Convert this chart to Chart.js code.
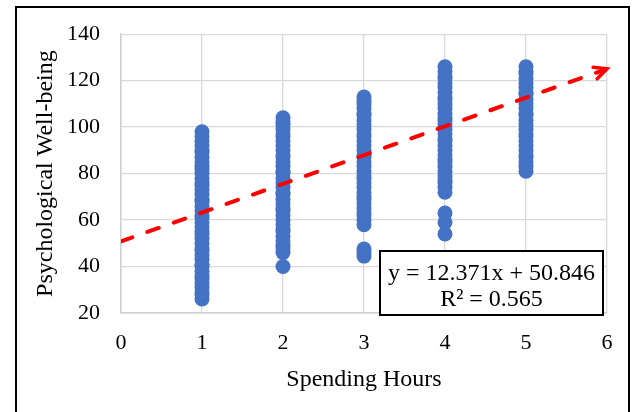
<!DOCTYPE html>
<html>
<head>
<meta charset="utf-8">
<script src="https://cdn.jsdelivr.net/npm/chart.js@4.4.1/dist/chart.umd.min.js"></script>
<style>
    body { margin: 0; background: #fff; }
    #frame { position: absolute; left: 15px; top: 6px; width: 615px; height: 420px; border: 2px solid #000; box-sizing: border-box; }
    #wrap { position: absolute; left: 0; top: 0; width: 633px; height: 412px; }
</style>
</head>
<body>
<div id="frame"></div>
<div id="wrap"><canvas id="scatterChart" width="633" height="412"></canvas></div>
<script>
// spending hours (x) and the well-being scores
const hours = [1, 2, 3, 4, 5];
const wellbeing1 = [26, 28, 29, 31, 33, 35, 36, 38, 40, 41, 43, 45, 47, 48, 50, 52, 54, 55, 57, 59, 61, 62, 64, 66, 68, 69, 71, 73, 75, 76, 78, 80, 82, 83, 85, 87, 89, 90, 92, 94, 96, 98];
const wellbeing2 = [40, 46, 48, 49, 51, 53, 55, 56, 58, 60, 62, 64, 65, 67, 69, 71, 72, 74, 76, 78, 80, 81, 83, 85, 87, 88, 90, 92, 94, 96, 97, 99, 101, 102, 104];
const wellbeing3 = [44.5, 46, 47.5, 58, 60, 62, 63, 65, 67, 69, 70, 72, 74, 76, 78, 79, 81, 83, 85, 87, 88, 90, 92, 94, 96, 97, 99, 101, 103, 105, 106, 108, 110, 111, 113];
const wellbeing4 = [54, 59, 63, 72, 74, 76, 77, 79, 81, 83, 85, 86, 88, 90, 92, 94, 95, 97, 99, 101, 103, 104, 106, 108, 110, 112, 113, 115, 117, 119, 121, 122, 124, 126];
const wellbeing5 = [81, 83, 85, 87, 88, 90, 92, 94, 96, 97, 99, 101, 103, 105, 106, 108, 110, 112, 114, 115, 117, 119, 121, 123, 124, 126];
const columns = [wellbeing1, wellbeing2, wellbeing3, wellbeing4, wellbeing5];

const xTicks = [0, 1, 2, 3, 4, 5, 6];
const yTicks = [20, 40, 60, 80, 100, 120, 140];

// linear trendline from the spreadsheet
const slope = 12.371;
const intercept = 50.846;
const rSquared = 0.565;

const serif = "'Liberation Serif', 'Times New Roman', serif";

const points = [];
hours.forEach(function (h, i) {
    columns[i].forEach(function (v) { points.push({ x: h, y: v }); });
});
const xMin = xTicks[0], xMax = xTicks[xTicks.length - 1];
const trend = [
    { x: xMin, y: intercept + slope * xMin },
    { x: xMax, y: intercept + slope * xMax }
];

const arrowAndBox = {
    id: 'arrowAndBox',
    afterDatasetsDraw(chart) {
        const ctx = chart.ctx;
        const xs = chart.scales.x, ys = chart.scales.y;
        // arrow head at the end of the trendline
        const tx = xs.getPixelForValue(xMax), ty = ys.getPixelForValue(trend[1].y);
        const bx = xs.getPixelForValue(xMax - 0.5), by = ys.getPixelForValue(intercept + slope * (xMax - 0.5));
        const ang = Math.atan2(ty - by, tx - bx);
        ctx.save();
        ctx.strokeStyle = '#ff0000';
        ctx.lineWidth = 3.5;
        ctx.lineCap = 'round';
        ctx.lineJoin = 'miter';
        ctx.beginPath();
        ctx.moveTo(tx - 14 * Math.cos(ang - 0.45), ty - 14 * Math.sin(ang - 0.45));
        ctx.lineTo(tx, ty);
        ctx.lineTo(tx - 14 * Math.cos(ang + 0.45), ty - 14 * Math.sin(ang + 0.45));
        ctx.stroke();
        ctx.restore();
    },
    afterDraw(chart) {
        const ctx = chart.ctx;
        const a = chart.chartArea;
        const left = a.right - 227, top = a.bottom - 62, w = 223, h = 64;
        ctx.save();
        ctx.fillStyle = '#fff';
        ctx.fillRect(left, top, w, h);
        ctx.strokeStyle = '#000';
        ctx.lineWidth = 2;
        ctx.strokeRect(left, top, w, h);
        ctx.fillStyle = '#000';
        ctx.font = '24px ' + serif;
        ctx.textAlign = 'center';
        ctx.textBaseline = 'alphabetic';
        ctx.fillText('y = ' + slope + 'x + ' + intercept, left + w / 2, top + 29);
        ctx.fillText('R\u00b2 = ' + rSquared, left + w / 2, top + 55);
        ctx.restore();
    }
};

document.addEventListener('DOMContentLoaded', function () {
    const ctx = document.getElementById('scatterChart').getContext('2d');
    new Chart(ctx, {
        type: 'scatter',
        data: {
            datasets: [{
                type: 'line',
                label: 'Trend',
                data: trend,
                borderColor: '#ff0000',
                borderWidth: 4,
                borderDash: [12, 16],
                borderCapStyle: 'round',
                pointRadius: 0,
                fill: false,
                order: 0
            }, {
                label: 'Well-being',
                data: points,
                backgroundColor: '#4472c4',
                borderWidth: 0,
                pointRadius: 7.5,
                order: 1
            }]
        },
        options: {
            responsive: false,
            animation: false,
            layout: { padding: { top: 33, right: 26, left: 0, bottom: 0 } },
            plugins: {
                legend: { display: false },
                tooltip: { enabled: false }
            },
            scales: {
                x: {
                    type: 'linear',
                    min: xMin,
                    max: xMax,
                    afterFit: function (s) { s.height = 99; },
                    afterBuildTicks: function (s) { s.ticks = xTicks.map(function (v) { return { value: v }; }); },
                    grid: { color: '#d9d9d9', lineWidth: 1.3, drawTicks: false },
                    border: { color: '#d0d0d0', width: 1.5 },
                    ticks: { color: '#000', padding: 17, font: { family: serif, size: 22 } },
                    title: { display: true, text: 'Spending Hours', color: '#000', padding: { top: 0, bottom: 18 }, font: { family: serif, size: 24 } }
                },
                y: {
                    min: yTicks[0],
                    max: yTicks[yTicks.length - 1],
                    afterFit: function (s) { s.width = 121; },
                    afterBuildTicks: function (s) { s.ticks = yTicks.map(function (v) { return { value: v }; }); },
                    grid: { color: '#d9d9d9', lineWidth: 1.3, drawTicks: false },
                    border: { color: '#d0d0d0', width: 1.5 },
                    ticks: { color: '#000', padding: 21, font: { family: serif, size: 22 } },
                    title: { display: true, text: 'Psychological Well-being', color: '#000', padding: { top: 31, bottom: 0 }, font: { family: serif, size: 24 } }
                }
            }
        },
        plugins: [arrowAndBox]
    });
});
</script>
</body>
</html>
